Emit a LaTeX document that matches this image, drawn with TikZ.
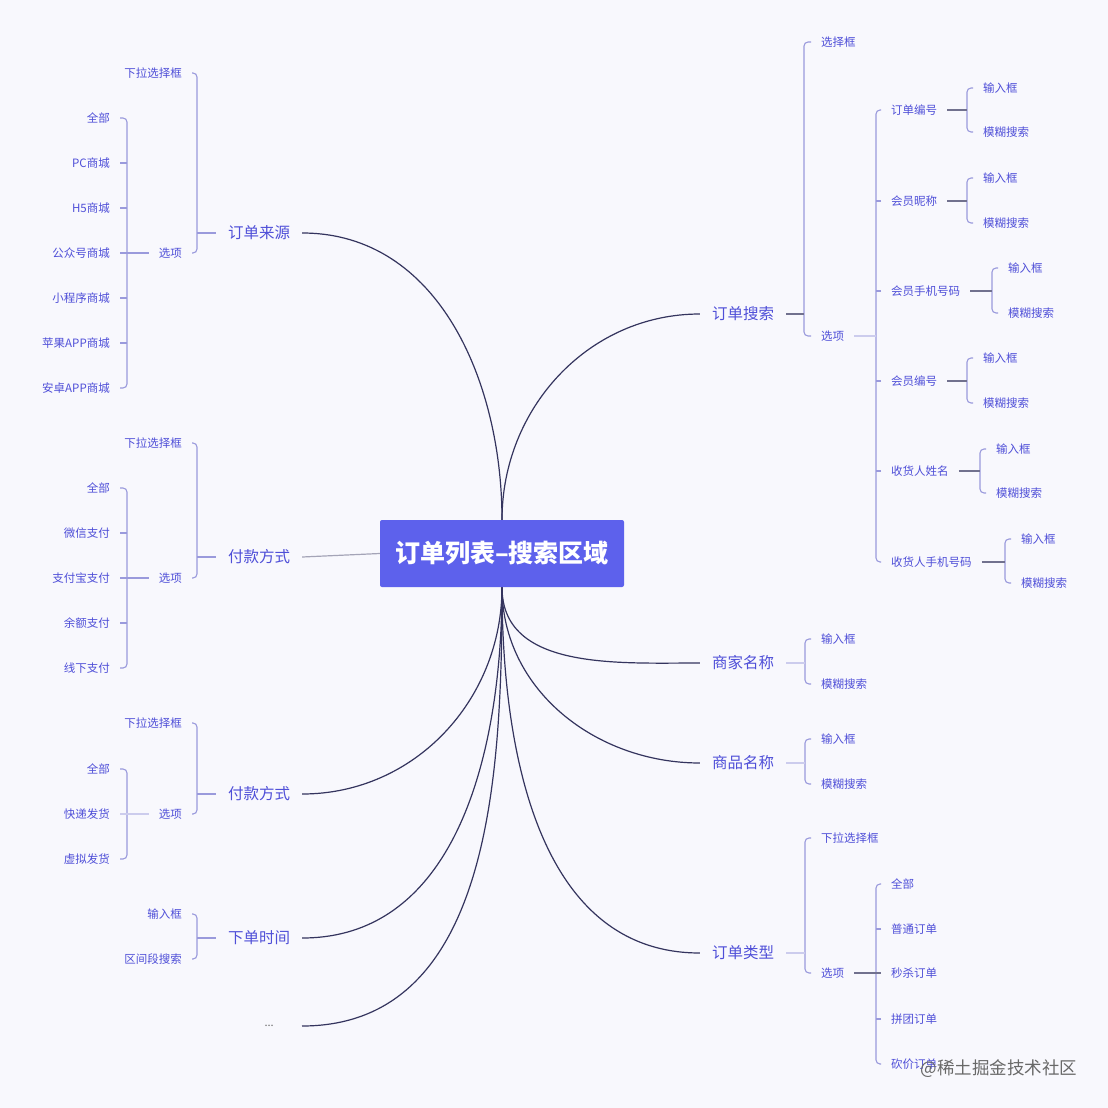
\documentclass[tikz,border=0pt]{standalone}
\usepackage{fontspec}
\setmainfont{Noto Sans CJK SC}
\usepackage{xcolor}
\usepackage{tikz}
\usetikzlibrary{backgrounds,calc}
\pgfdeclarelayer{edgelayer}
\pgfdeclarelayer{nodelayer}
\pgfsetlayers{background,edgelayer,nodelayer,main}
\definecolor{paper}{HTML}{F8F8FD}
\definecolor{ink}{HTML}{4F4FD8}
\definecolor{rootfill}{HTML}{5D61EC}
\definecolor{navy}{HTML}{34345E}
\definecolor{brace}{HTML}{9A9ADC}
\definecolor{mark}{HTML}{686868}
\tikzstyle{none}=[inner sep=0mm]
\tikzstyle{root}=[fill=rootfill,text=white,rounded corners=2pt,minimum width=244pt,minimum height=67pt,font=\fontsize{25}{28}\selectfont\bfseries]
\tikzstyle{topic}=[inner xsep=12pt,inner ysep=2pt,text=ink,font=\fontsize{15.5}{18}\selectfont]
\tikzstyle{leaf}=[inner xsep=10pt,inner ysep=1pt,text=ink,font=\fontsize{11.5}{13}\selectfont]
\tikzstyle{leafl}=[leaf,anchor=east]
\tikzstyle{leafr}=[leaf,anchor=west]
\tikzstyle{branch}=[draw=navy,line width=1.2pt]
\tikzstyle{brk}=[draw=brace,line width=1.1pt,rounded corners=4pt]

\begin{document}
\begin{tikzpicture}[x=10pt,y=10pt]
	\begin{pgfonlayer}{background}
		\fill[paper] (0,0) rectangle (110.8,-110.8);
		\useasboundingbox (0,0) rectangle (110.8,-110.8);
	\end{pgfonlayer}
	\begin{pgfonlayer}{nodelayer}
		\node [style=root] (root) at (50.2, -55.35) {订单列表–搜索区域};
		% left side
		\node [style=topic] (src) at (25.9, -23.3) {订单来源};
		\node [style=leafl] (srcdd) at (19.2, -7.3) {下拉选择框};
		\node [style=leafl] (srcop) at (19.2, -25.3) {选项};
		\node [style=leafl] (s1) at (12.0, -11.8) {全部};
		\node [style=leafl] (s2) at (12.0, -16.3) {PC商城};
		\node [style=leafl] (s3) at (12.0, -20.8) {H5商城};
		\node [style=leafl] (s4) at (12.0, -25.3) {公众号商城};
		\node [style=leafl] (s5) at (12.0, -29.8) {小程序商城};
		\node [style=leafl] (s6) at (12.0, -34.3) {苹果APP商城};
		\node [style=leafl] (s7) at (12.0, -38.8) {安卓APP商城};
		\node [style=topic] (pay) at (25.9, -55.7) {付款方式};
		\node [style=leafl] (paydd) at (19.2, -44.3) {下拉选择框};
		\node [style=leafl] (payop) at (19.2, -57.8) {选项};
		\node [style=leafl] (p1) at (12.0, -48.8) {全部};
		\node [style=leafl] (p2) at (12.0, -53.3) {微信支付};
		\node [style=leafl] (p3) at (12.0, -57.8) {支付宝支付};
		\node [style=leafl] (p4) at (12.0, -62.3) {余额支付};
		\node [style=leafl] (p5) at (12.0, -66.8) {线下支付};
		\node [style=topic] (ship) at (25.9, -79.4) {付款方式};
		\node [style=leafl] (shipdd) at (19.2, -72.3) {下拉选择框};
		\node [style=leafl] (shipop) at (19.2, -81.4) {选项};
		\node [style=leafl] (d1) at (12.0, -76.9) {全部};
		\node [style=leafl] (d2) at (12.0, -81.4) {快递发货};
		\node [style=leafl] (d3) at (12.0, -85.9) {虚拟发货};
		\node [style=topic] (time) at (25.9, -93.8) {下单时间};
		\node [style=leafl] (time1) at (19.2, -91.4) {输入框};
		\node [style=leafl] (time2) at (19.2, -95.9) {区间段搜索};
		\node [style=topic,anchor=east,inner xsep=28pt,text=mark,font=\fontsize{11}{13}\selectfont] (more) at (30.2, -102.6) {...};
		% right side
		\node [style=topic] (find) at (74.3, -31.4) {订单搜索};
		\node [style=leafr] (findsel) at (81.1, -4.2) {选择框};
		\node [style=leafr] (findop) at (81.1, -33.6) {选项};
		\node [style=leafr] (f1) at (88.1, -11.0) {订单编号};
		\node [style=leafr] (f2) at (88.1, -20.1) {会员昵称};
		\node [style=leafr] (f3) at (88.1, -29.1) {会员手机号码};
		\node [style=leafr] (f4) at (88.1, -38.1) {会员编号};
		\node [style=leafr] (f5) at (88.1, -47.1) {收货人姓名};
		\node [style=leafr] (f6) at (88.1, -56.2) {收货人手机号码};
		\node [style=leafr] (f1a) at (97.3, -8.8) {输入框};
		\node [style=leafr] (f1b) at (97.3, -13.2) {模糊搜索};
		\node [style=leafr] (f2a) at (97.3, -17.8) {输入框};
		\node [style=leafr] (f2b) at (97.3, -22.3) {模糊搜索};
		\node [style=leafr] (f3a) at (99.8, -26.8) {输入框};
		\node [style=leafr] (f3b) at (99.8, -31.3) {模糊搜索};
		\node [style=leafr] (f4a) at (97.3, -35.8) {输入框};
		\node [style=leafr] (f4b) at (97.3, -40.3) {模糊搜索};
		\node [style=leafr] (f5a) at (98.6, -44.9) {输入框};
		\node [style=leafr] (f5b) at (98.6, -49.3) {模糊搜索};
		\node [style=leafr] (f6a) at (101.1, -53.9) {输入框};
		\node [style=leafr] (f6b) at (101.1, -58.3) {模糊搜索};
		\node [style=topic] (shop) at (74.3, -66.3) {商家名称};
		\node [style=leafr] (shopa) at (81.1, -63.9) {输入框};
		\node [style=leafr] (shopb) at (81.1, -68.4) {模糊搜索};
		\node [style=topic] (goods) at (74.3, -76.3) {商品名称};
		\node [style=leafr] (goodsa) at (81.1, -73.9) {输入框};
		\node [style=leafr] (goodsb) at (81.1, -78.4) {模糊搜索};
		\node [style=topic] (type) at (74.3, -95.3) {订单类型};
		\node [style=leafr] (typedd) at (81.1, -83.8) {下拉选择框};
		\node [style=leafr] (typeop) at (81.1, -97.3) {选项};
		\node [style=leafr] (t1) at (88.1, -88.4) {全部};
		\node [style=leafr] (t2) at (88.1, -92.9) {普通订单};
		\node [style=leafr] (t3) at (88.1, -97.3) {秒杀订单};
		\node [style=leafr] (t4) at (88.1, -101.9) {拼团订单};
		\node [style=leafr] (t5) at (88.1, -106.4) {砍价订单};
		\node [style=none,text=mark,font=\fontsize{17.5}{20}\selectfont] (wm) at (99.9, -106.9) {@稀土掘金技术社区};
		% bracket spines
		\coordinate (srcb) at (19.7, -23.3);
		\coordinate (srcob) at (12.7, -25.3);
		\coordinate (payb) at (19.7, -55.7);
		\coordinate (payob) at (12.7, -57.8);
		\coordinate (shipb) at (19.7, -79.4);
		\coordinate (shipob) at (12.7, -81.4);
		\coordinate (timeb) at (19.7, -93.8);
		\coordinate (findb) at (80.4, -31.4);
		\coordinate (findob) at (87.6, -33.6);
		\coordinate (f1s) at (96.7, -11.0);
		\coordinate (f2s) at (96.7, -20.1);
		\coordinate (f3s) at (99.2, -29.1);
		\coordinate (f4s) at (96.7, -38.1);
		\coordinate (f5s) at (98.0, -47.1);
		\coordinate (f6s) at (100.5, -56.2);
		\coordinate (shops) at (80.5, -66.3);
		\coordinate (goodss) at (80.5, -76.3);
		\coordinate (typeb) at (80.5, -95.3);
		\coordinate (typeob) at (87.6, -97.3);
	\end{pgfonlayer}
	\begin{pgfonlayer}{edgelayer}
		\draw[style=branch] (root.north) to[out=90,in=0] (src.east);
		\draw[style=branch,draw=navy!45] (root.west) -- (pay.east);
		\draw[style=branch] (root.south) to[out=-90,in=0] (ship.east);
		\draw[style=branch] (root.south) to[out=-90,in=0] (time.east);
		\draw[style=branch] (root.south) to[out=-90,in=0] (more.east);
		\draw[style=branch] (root.north) to[out=90,in=180] (find.west);
		\draw[style=branch] (root.south) to[out=-90,in=180] (shop.west);
		\draw[style=branch] (root.south) to[out=-90,in=180] (goods.west);
		\draw[style=branch] (root.south) to[out=-90,in=180] (type.west);
		% 订单来源
		\draw[style=brk] (srcdd.east) -| (srcb) |- (srcop.east);
		\draw[style=brk] (srcb) -- (src.west);
		\draw[style=brk] (s1.east) -| (srcob) |- (s7.east);
		\draw[style=brk] (s2.east) -- (s2.east -| srcob);
		\draw[style=brk] (s3.east) -- (s3.east -| srcob);
		\draw[style=brk] (s5.east) -- (s5.east -| srcob);
		\draw[style=brk] (s6.east) -- (s6.east -| srcob);
		\draw[style=brk] (s4.east) -- (srcop.west);
		% 付款方式
		\draw[style=brk] (paydd.east) -| (payb) |- (payop.east);
		\draw[style=brk] (payb) -- (pay.west);
		\draw[style=brk] (p1.east) -| (payob) |- (p5.east);
		\draw[style=brk] (p2.east) -- (p2.east -| payob);
		\draw[style=brk] (p4.east) -- (p4.east -| payob);
		\draw[style=brk] (p3.east) -- (payop.west);
		% 付款方式 (2)
		\draw[style=brk] (shipdd.east) -| (shipb) |- (shipop.east);
		\draw[style=brk] (shipb) -- (ship.west);
		\draw[style=brk] (d1.east) -| (shipob) |- (d3.east);
		\draw[style=brk,draw=brace!50] (d2.east) -- (shipop.west);
		% 下单时间
		\draw[style=brk] (time1.east) -| (timeb) |- (time2.east);
		\draw[style=brk] (timeb) -- (time.west);
		% 订单搜索
		\draw[style=brk] (findsel.west) -| (findb) |- (findop.west);
		\draw[style=brk,draw=navy!70] (find.east) -- (findb);
		\draw[style=brk] (f1.west) -| (findob) |- (f6.west);
		\draw[style=brk] (f2.west) -- (f2.west -| findob);
		\draw[style=brk] (f3.west) -- (f3.west -| findob);
		\draw[style=brk] (f4.west) -- (f4.west -| findob);
		\draw[style=brk] (f5.west) -- (f5.west -| findob);
		\draw[style=brk,draw=brace!50] (findop.east) -- (findop.east -| findob);
		\draw[style=brk] (f1a.west) -| (f1s) |- (f1b.west);
		\draw[style=brk,draw=navy!70] (f1.east) -- (f1s);
		\draw[style=brk] (f2a.west) -| (f2s) |- (f2b.west);
		\draw[style=brk,draw=navy!70] (f2.east) -- (f2s);
		\draw[style=brk] (f3a.west) -| (f3s) |- (f3b.west);
		\draw[style=brk,draw=navy!70] (f3.east) -- (f3s);
		\draw[style=brk] (f4a.west) -| (f4s) |- (f4b.west);
		\draw[style=brk,draw=navy!70] (f4.east) -- (f4s);
		\draw[style=brk] (f5a.west) -| (f5s) |- (f5b.west);
		\draw[style=brk,draw=navy!70] (f5.east) -- (f5s);
		\draw[style=brk] (f6a.west) -| (f6s) |- (f6b.west);
		\draw[style=brk,draw=navy!70] (f6.east) -- (f6s);
		% 商家名称, 商品名称
		\draw[style=brk] (shopa.west) -| (shops) |- (shopb.west);
		\draw[style=brk,draw=brace!50] (shop.east) -- (shops);
		\draw[style=brk] (goodsa.west) -| (goodss) |- (goodsb.west);
		\draw[style=brk,draw=brace!50] (goods.east) -- (goodss);
		% 订单类型
		\draw[style=brk] (typedd.west) -| (typeb) |- (typeop.west);
		\draw[style=brk,draw=brace!50] (type.east) -- (typeb);
		\draw[style=brk] (t1.west) -| (typeob) |- (t5.west);
		\draw[style=brk] (t2.west) -- (t2.west -| typeob);
		\draw[style=brk] (t4.west) -- (t4.west -| typeob);
		\draw[style=brk,draw=navy!70] (typeop.east) -- (t3.west);
	\end{pgfonlayer}
\end{tikzpicture}
\end{document}
